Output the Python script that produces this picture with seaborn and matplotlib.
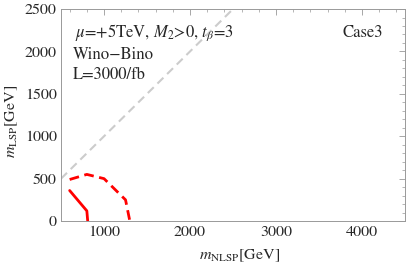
import pandas as pd
import seaborn as sns
import matplotlib.pyplot as plt
from matplotlib.ticker import MultipleLocator

# Exclusion contours (GeV)
solid_nlsp = [600, 800, 810]
solid_lsp = [360, 120, 0]
dashed_nlsp = [600, 800, 1000, 1250, 1300]
dashed_lsp = [490, 550, 500, 250, 0]
diag_nlsp = [500, 2500]
diag_lsp = [500, 2500]

x_ticks = [1000, 2000, 3000, 4000]
y_ticks = [0, 500, 1000, 1500, 2000, 2500]

sns.set_style("white")
plt.rcParams['font.family'] = ['STIXGeneral', 'DejaVu Serif']
plt.rcParams['mathtext.fontset'] = 'stix'

solid_df = pd.DataFrame({"nlsp": solid_nlsp, "lsp": solid_lsp})
dashed_df = pd.DataFrame({"nlsp": dashed_nlsp, "lsp": dashed_lsp})
diag_df = pd.DataFrame({"nlsp": diag_nlsp, "lsp": diag_lsp})

fig = plt.figure(figsize=(4.07, 2.66), dpi=100)
ax = fig.add_axes([0.150, 0.169, 0.845, 0.797])

sns.lineplot(data=diag_df, x="nlsp", y="lsp", ax=ax, color="#cccccc",
             lw=1.5, linestyle=(0, (4, 2.5)), sort=False)
sns.lineplot(data=dashed_df, x="nlsp", y="lsp", ax=ax, color="#ff0000",
             lw=2, linestyle=(0, (3.5, 2)), sort=False)
sns.lineplot(data=solid_df, x="nlsp", y="lsp", ax=ax, color="#ff0000",
             lw=2, sort=False)

ax.set_xlim(500, 4500)
ax.set_ylim(0, 2500)
ax.set_xticks(x_ticks)
ax.set_yticks(y_ticks)
ax.xaxis.set_minor_locator(MultipleLocator(200))
ax.yaxis.set_minor_locator(MultipleLocator(100))
ax.tick_params(which='both', direction='in', top=True, right=True,
               color='#999999', labelsize=11.5, pad=3)
ax.tick_params(which='major', length=4, width=0.6)
ax.tick_params(which='minor', length=2.2, width=0.5)
for s in ax.spines.values():
    s.set_color('#999999')
    s.set_linewidth(0.7)

ax.set_xlabel(r"$m_{\mathrm{NLSP}}$[GeV]", fontsize=11.5)
ax.set_ylabel(r"$m_{\mathrm{LSP}}$[GeV]", fontsize=11.5)
ax.xaxis.set_label_coords(0.52, -0.125)
ax.yaxis.set_label_coords(-0.12, 0.47)

ax.text(0.04, 0.868, r"$\mu$=+5TeV, $M_2$>0, $t_\beta$=3", transform=ax.transAxes,
        fontsize=12, va='baseline', ha='left')
ax.text(0.035, 0.764, "Wino\u2212Bino", transform=ax.transAxes,
        fontsize=12, va='baseline', ha='left')
ax.text(0.035, 0.670, "L=3000/fb", transform=ax.transAxes,
        fontsize=12, va='baseline', ha='left')
ax.text(0.936, 0.868, "Case3", transform=ax.transAxes,
        fontsize=12, va='baseline', ha='right')

fig.savefig("out.png", dpi=100)
